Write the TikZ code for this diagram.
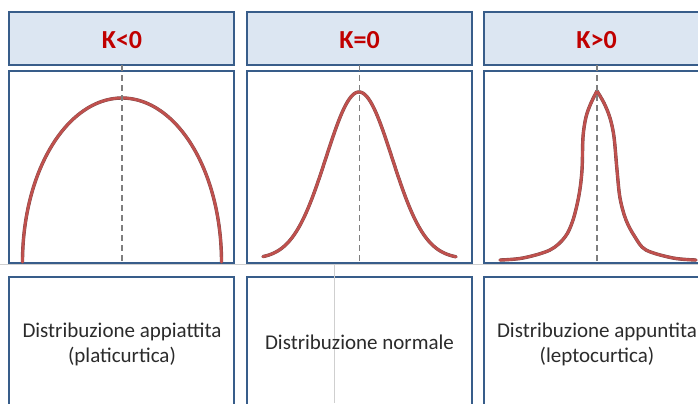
\documentclass[tikz,border=0pt]{standalone}
\usepackage{fontspec}
\setmainfont{Carlito}
\definecolor{boxblue}{HTML}{385D8A}
\definecolor{hdrfill}{HTML}{DCE6F2}
\definecolor{hdrred}{HTML}{C00000}
\definecolor{curvered}{HTML}{C0504D}
\definecolor{curvedark}{HTML}{7E4A4A}
\definecolor{dashgray}{HTML}{7F7F7F}
\definecolor{bodytext}{HTML}{2B2B2B}
\definecolor{ghost}{HTML}{CFCFCF}
\begin{document}
\begin{tikzpicture}[x=1bp,y=-1bp,
  hdrbox/.style={draw=boxblue, line width=1.8bp, fill=hdrfill, minimum width=225bp, minimum height=53bp, inner sep=0pt},
  plotbox/.style={draw=boxblue, line width=1.8bp, fill=white, minimum width=225bp, minimum height=192bp, inner sep=0pt},
  textbox/.style={draw=boxblue, line width=1.8bp, fill=white, minimum width=225bp, minimum height=150bp, inner sep=0pt},
  hdrtext/.style={text=hdrred, font=\fontsize{26bp}{30bp}\selectfont\bfseries, inner sep=0pt},
  bodylabel/.style={text=bodytext, font=\fontsize{21bp}{25bp}\selectfont, align=center, inner sep=0pt},
  curve/.style={draw=curvered, line width=2.6bp, line join=round, line cap=round,
    preaction={draw=curvedark, line width=3.4bp, line join=round, line cap=round}},
  axisline/.style={draw=dashgray, line width=1.6bp, dash pattern=on 6bp off 4bp},
  ghostline/.style={draw=ghost, line width=0.8bp}
]
\useasboundingbox (0,0) rectangle (698,403);
\clip (0,0) rectangle (698,403);
\fill[white] (0,0) rectangle (698,403);
\draw[ghostline] (0,264) -- (698,264);

% headers
\node[hdrbox] (h1) at (121.5,38.5) {};
\node[hdrbox] (h2) at (359.5,38.5) {};
\node[hdrbox] (h3) at (596.5,38.5) {};
\node[hdrtext] (k1) at (122,40.5) {K<0};
\node[hdrtext] (k2) at (359.5,40.5) {K=0};
\node[hdrtext] (k3) at (596.5,40.5) {K>0};

% plot boxes
\node[plotbox] (p1) at (121.5,167) {};
\node[plotbox] (p2) at (359.5,167) {};
\node[plotbox] (p3) at (596.5,167) {};

% text boxes
\node[textbox] (b1) at (121.5,352) {};
\node[textbox] (b2) at (359.5,352) {};
\node[textbox] (b3) at (596.5,352) {};
\draw[ghostline] (334,264) -- (334,403);

% curves
\draw[curve] plot[domain=180:0, samples=100] ({122+99.5*cos(\x)},{262-164*sin(\x)});
\draw[curve] plot[domain=263:456, samples=120] (\x,{259-167*exp(-((\x-359)/33)*((\x-359)/33)/2)});
\draw[curve] plot[smooth, tension=0.55] coordinates {(500,260) (523,258) (550,250) (565,237) (573,220) (579,195) (582,170) (583,137) (586,117) (591,103) (597,91)}
  -- plot[smooth, tension=0.55] coordinates {(597,91) (604,103) (610,118) (614,137) (617,170) (620,198) (626,220) (635,237) (646,250) (673,258) (696,260)};

% dashed axes
\draw[axisline] ([xshift=0.5bp,yshift=5bp]p1.north) -- ([xshift=0.5bp]p1.south);
\draw[axisline] ([yshift=5bp]p2.north) -- (p2.south);
\draw[axisline] ([xshift=0.5bp,yshift=5bp]p3.north) -- ([xshift=0.5bp]p3.south);

% body texts
\node[bodylabel, anchor=base] (d1) at (122,362) {Distribuzione appiattita\\(platicurtica)};
\node[bodylabel, anchor=base] (d2) at (359.5,349) {Distribuzione normale};
\node[bodylabel, anchor=base] (d3) at (597,362) {Distribuzione appuntita\\(leptocurtica)};
\end{tikzpicture}
\end{document}
